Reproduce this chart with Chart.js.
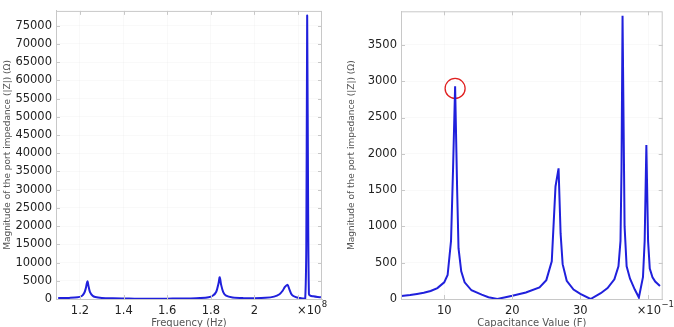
<!DOCTYPE html>
<html>
<head>
<meta charset="utf-8">
<script src="https://cdn.jsdelivr.net/npm/chart.js@4/dist/chart.umd.min.js"></script>
<style>
  body { margin: 0; background: #fff; }
  .wrap { position: absolute; top: 0; width: 337px; height: 327px; }
</style>
</head>
<body>
<div class="wrap" style="left:0"><canvas id="freqChart" width="337" height="327"></canvas></div>
<div class="wrap" style="left:337px"><canvas id="capChart" width="337" height="327"></canvas></div>
<script>
// Left chart: frequency (x in units of 1e8 Hz) vs |Z| (Ohm)
const freqX = [1.10, 1.15, 1.19, 1.21, 1.22, 1.227, 1.234, 1.240, 1.246, 1.258, 1.27, 1.30, 1.35, 1.40, 1.45, 1.50,
  1.55, 1.60, 1.65, 1.70, 1.75, 1.79, 1.81, 1.825, 1.835, 1.841, 1.847, 1.857, 1.87, 1.90, 1.95, 2.00, 2.05,
  2.09, 2.115, 2.13, 2.140, 2.152, 2.160, 2.172, 2.19, 2.21, 2.225, 2.233, 2.238, 2.242, 2.246, 2.250, 2.256,
  2.27, 2.29, 2.305];
const freqZ = [280, 300, 450, 900, 1700, 3000, 4850, 3300, 1900, 900, 550, 300, 180, 130, 100, 90,
  90, 100, 120, 160, 250, 480, 950, 2000, 4200, 6000, 4000, 1900, 900, 420, 240, 230, 330,
  650, 1300, 2300, 3300, 3900, 2700, 1100, 500, 250, 120, 60, 15000, 77800, 30000, 1400, 950,
  750, 550, 450];
const freqTicks = [1.2, 1.4, 1.6, 1.8, 2.0, 2.2];
const freqTickLabels = ['1.2', '1.4', '1.6', '1.8', '2', ''];
const freqYTicks = [0, 5000, 10000, 15000, 20000, 25000, 30000, 35000, 40000, 45000, 50000, 55000, 60000, 65000, 70000, 75000];

// Right chart: capacitance (x in units of 1e-11 F) vs |Z| (Ohm)
const capX = [3.7, 5, 6, 7, 8, 9, 10, 10.5, 11.0, 11.3, 11.6, 11.9, 12.1, 12.5, 13, 14, 15.5, 16.5, 17.8,
  19, 20, 22, 24, 25, 25.8, 26.35, 26.8, 27.1, 27.4, 28, 29, 30, 31.5,
  33, 34, 35, 35.6, 35.9, 36.05, 36.2, 36.5, 36.8, 37.3, 38.0, 38.6, 39.2, 39.45, 39.7, 39.95, 40.2, 40.6, 41.0, 41.7];
const capZ = [40, 55, 70, 85, 110, 150, 230, 330, 800, 1800, 2930, 1500, 700, 380, 230, 120, 60, 25, 0,
  25, 45, 90, 160, 260, 520, 1550, 1800, 900, 480, 250, 130, 70, 0,
  80, 150, 270, 450, 800, 1800, 3900, 1000, 450, 280, 130, 20, 300, 800, 2120, 800, 420, 300, 240, 180];
const capTicks = [10, 20, 30, 40];
const capTickLabels = ['10', '20', '30', ''];
const capYTicks = [0, 500, 1000, 1500, 2000, 2500, 3000, 3500];
// highlighted point (red circle)
const capMarker = [{ x: 11.6, y: 2900 }];

const yTitle = 'Magnitude of the port impedance (|Z|) (\u03a9)';
const tickFont = { family: 'DejaVu Sans', size: 11.5 };
const lineColor = '#2020dc';

// frame + inward tick marks + exponent label
function framePlugin(expText) {
  return {
    id: 'frame',
    afterDraw(chart) {
      const { ctx, chartArea: a, scales } = chart;
      ctx.save();
      ctx.strokeStyle = '#c8c8c8';
      ctx.lineWidth = 1;
      ctx.strokeRect(a.left + 0.5, a.top + 0.5, a.right - a.left - 1, a.bottom - a.top);
      ctx.beginPath();
      scales.x.ticks.forEach(t => {
        const px = Math.round(scales.x.getPixelForValue(t.value)) + 0.5;
        ctx.moveTo(px, a.top); ctx.lineTo(px, a.top + 4);
        ctx.moveTo(px, a.bottom); ctx.lineTo(px, a.bottom - 4);
      });
      scales.y.ticks.forEach(t => {
        const py = Math.round(scales.y.getPixelForValue(t.value)) + 0.5;
        ctx.moveTo(a.left, py); ctx.lineTo(a.left + 4, py);
        ctx.moveTo(a.right, py); ctx.lineTo(a.right - 4, py);
      });
      ctx.stroke();

      // exponent label in the last tick slot
      ctx.fillStyle = '#222';
      ctx.textBaseline = 'middle';
      ctx.textAlign = 'left';
      const lx = a.right + expText.dx;
      ctx.font = '11.5px "DejaVu Sans"';
      ctx.fillText('\u00d710', lx, a.bottom + 12);
      const w = ctx.measureText('\u00d710').width;
      ctx.font = '8.5px "DejaVu Sans"';
      ctx.fillText(expText.exp, lx + w + 0.5, a.bottom + 6);
      ctx.restore();
    }
  };
}

function makeChart(id, xs, ys, opts) {
  const datasets = [{
    data: xs.map((x, i) => ({ x: x, y: ys[i] })),
    borderColor: lineColor,
    borderWidth: 2,
    pointRadius: 0,
    tension: opts.tension,
    fill: false
  }];
  if (opts.marker) {
    datasets.push({
      data: opts.marker,
      showLine: false,
      pointRadius: 10,
      pointHoverRadius: 10,
      pointBorderWidth: 1.3,
      pointBorderColor: '#e02020',
      pointBackgroundColor: 'rgba(0,0,0,0)'
    });
  }
  return new Chart(document.getElementById(id), {
    type: 'line',
    data: { datasets },
    options: {
      responsive: false,
      animation: false,
      events: [],
      layout: { padding: { top: opts.top, right: opts.right, left: 0, bottom: 0 } },
      plugins: { legend: { display: false }, tooltip: { enabled: false } },
      scales: {
        x: {
          type: 'linear',
          min: opts.xMin,
          max: opts.xMax,
          afterFit: s => { s.height = 28; },
          afterBuildTicks: s => { s.ticks = opts.xTicks.map(v => ({ value: v })); },
          ticks: {
            font: tickFont,
            color: '#222',
            padding: 5,
            maxRotation: 0,
            autoSkip: false,
            callback: (v, i) => opts.xLabels[i]
          },
          grid: { color: 'rgba(0,0,0,0.025)', drawTicks: false },
          border: { color: '#c8c8c8' },
          title: {
            display: true,
            text: opts.xTitle,
            color: '#555',
            font: { family: 'DejaVu Sans', size: 10 },
            padding: { top: 0, bottom: -2 }
          }
        },
        y: {
          min: 0,
          max: opts.yMax,
          afterFit: s => { s.width = opts.yWidth; },
          afterBuildTicks: s => { s.ticks = opts.yTicks.map(v => ({ value: v })); },
          ticks: {
            font: tickFont,
            color: '#222',
            padding: 4,
            callback: v => String(v)
          },
          grid: { color: 'rgba(0,0,0,0.025)', drawTicks: false },
          border: { color: '#c8c8c8' },
          title: {
            display: true,
            text: yTitle,
            color: '#555',
            font: { family: 'DejaVu Sans', size: 9 },
            padding: { top: opts.yTitlePad, bottom: 0 }
          }
        }
      }
    },
    plugins: [framePlugin(opts.exp)]
  });
}

makeChart('freqChart', freqX, freqZ, {
  tension: 0.3,
  top: 7, right: 15, yWidth: 56, yTitlePad: 2,
  xMin: 1.09, xMax: 2.31, yMax: 79080,
  xTicks: freqTicks, xLabels: freqTickLabels, yTicks: freqYTicks,
  xTitle: 'Frequency (Hz)',
  exp: { dx: -25, exp: '8' }
});

makeChart('capChart', capX, capZ, {
  tension: 0,
  top: 8, right: 6, yWidth: 64, yTitlePad: 9,
  xMin: 3.65, xMax: 42.1, yMax: 3963,
  xTicks: capTicks, xLabels: capTickLabels, yTicks: capYTicks,
  xTitle: 'Capacitance Value (F)',
  marker: capMarker,
  exp: { dx: -26, exp: '\u22121' }
});
</script>
</body>
</html>
